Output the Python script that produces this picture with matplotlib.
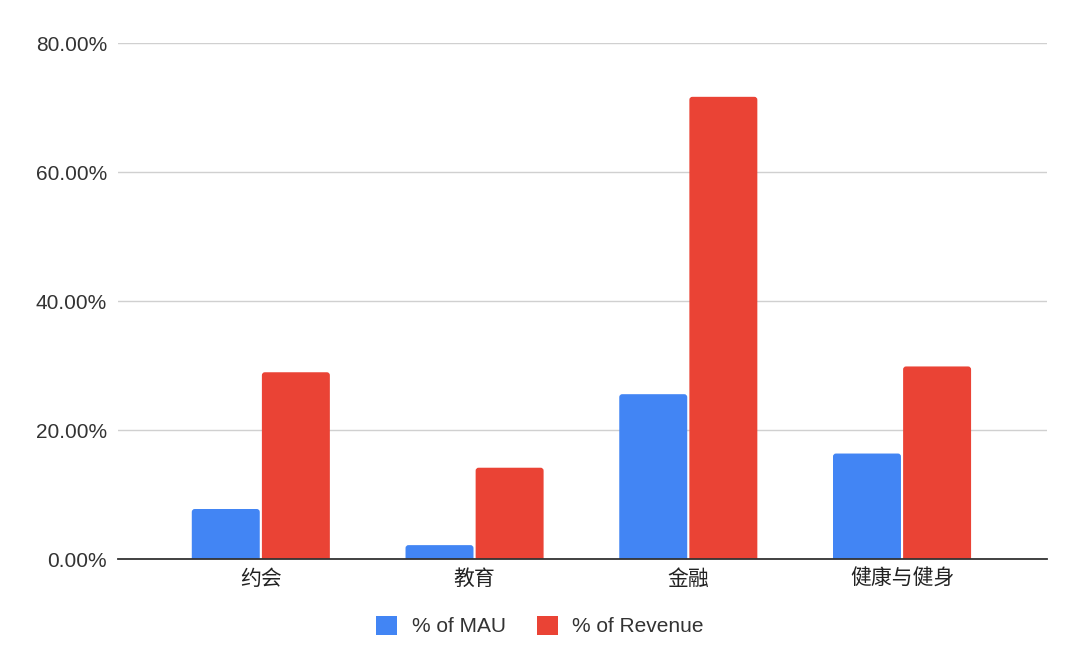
import numpy as np
import matplotlib
matplotlib.use("Agg")
import matplotlib.pyplot as plt
from matplotlib.patches import FancyBboxPatch, Patch

categories = ["约会", "教育", "金融", "健康与健身"]
mau_pct = [7.8, 2.2, 25.6, 16.4]
revenue_pct = [29.0, 14.2, 71.7, 29.9]
y_ticks = [0, 20, 40, 60, 80]

BLUE = "#4285F4"
RED = "#EA4335"

plt.rcParams['font.family'] = ['Liberation Sans', 'Noto Sans CJK SC', 'DejaVu Sans']

fig = plt.figure(figsize=(10.8, 6.68), dpi=100)
ax = fig.add_axes([0.1093, 0.1627, 0.8601, 0.7725])

x = np.arange(len(categories))
w = 0.318
gap = 0.005
bars_mau = ax.bar(x - w / 2 - gap, mau_pct, width=w, color=BLUE, zorder=3)
bars_rev = ax.bar(x + w / 2 + gap, revenue_pct, width=w, color=RED, zorder=3)

ax.set_xlim(-0.668, len(categories) - 1 + 0.678)
ax.set_ylim(0, 80)

# rounded tops, like the original chart
for bars in (bars_mau, bars_rev):
    for r in bars:
        p = FancyBboxPatch((r.get_x(), -1), r.get_width(), r.get_height() + 1,
                           boxstyle="round,pad=0,rounding_size=0.014",
                           mutation_aspect=33, facecolor=r.get_facecolor(),
                           edgecolor="none", zorder=3)
        ax.add_patch(p)
        r.set_visible(False)

ax.set_yticks(y_ticks)
ax.set_yticklabels([f"{v:.2f}%" for v in y_ticks], fontsize=15, color="#333333")
ax.set_xticks(x)
ax.set_xticklabels(categories, fontsize=15, color="#222222",
                   family=['Noto Sans CJK SC', 'DejaVu Sans'])
ax.tick_params(axis="both", length=0)
ax.tick_params(axis="y", pad=8)
ax.tick_params(axis="x", pad=6)

ax.grid(axis="y", color="#d0d0d0", linewidth=1, zorder=0)
for s in ["top", "right", "left"]:
    ax.spines[s].set_visible(False)
ax.spines["bottom"].set_color("#333333")
ax.spines["bottom"].set_linewidth(1.3)
ax.spines["bottom"].set_zorder(4)

handles = [Patch(facecolor=BLUE, label="% of MAU"), Patch(facecolor=RED, label="% of Revenue")]
fig.legend(handles=handles, loc="upper center", bbox_to_anchor=(0.5, 0.106),
           ncol=2, frameon=False, fontsize=15, handlelength=1.0, handleheight=1.0,
           columnspacing=1.5, handletextpad=0.7, labelcolor="#333333")

fig.savefig("out.png", dpi=100)
